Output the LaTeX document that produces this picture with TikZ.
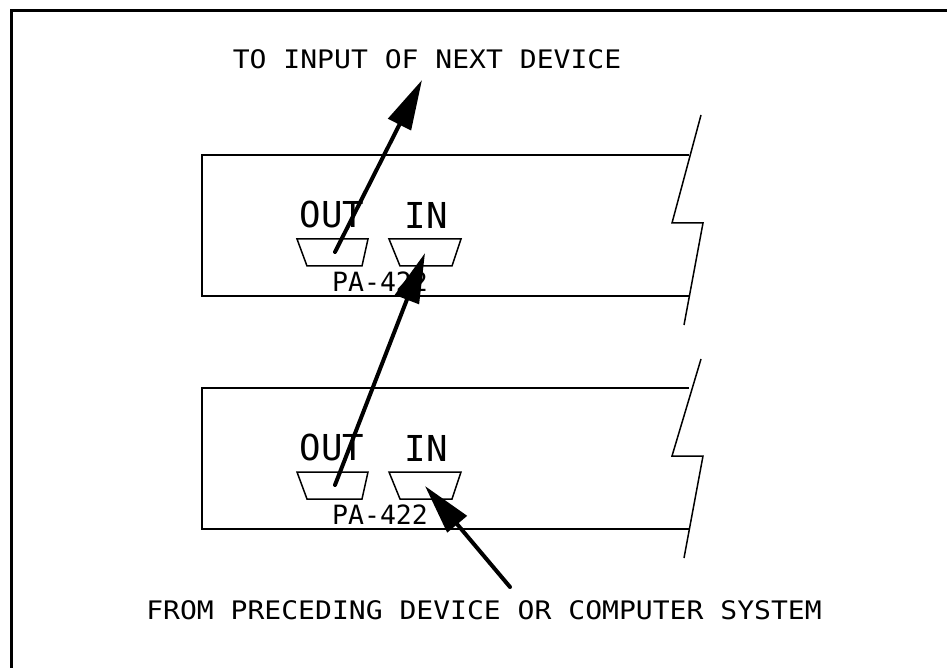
\documentclass[tikz,border=0pt]{standalone}
\usepackage{fontspec}
\newfontfamily\plotfont[FakeStretch=1.1]{DejaVu Sans Mono}
\newfontfamily\portfont{DejaVu Sans Mono}
\usetikzlibrary{arrows.meta}

\begin{document}
\begin{tikzpicture}[x=1pt, y=-1pt,
        panel/.style={line width=1.5pt},
        wire/.style={line width=4pt, line cap=round, -{Triangle[length=50pt, width=25pt]}},
        caption/.style={inner sep=0pt, font=\fontsize{25.5}{28}\plotfont},
        portlbl/.style={inner sep=0pt, font=\fontsize{35.7}{40}\portfont},
        partlbl/.style={inner sep=0pt, font=\fontsize{26.5}{30}\portfont}]
            \useasboundingbox (0,0) rectangle (947,668);
            \draw [line width=3pt] (947,11) -- (11,11) -- (11,668);

            % the two devices, one above the other
            \foreach \i/\dy/\brk in {1/0/115, 2/233/126} {
                \draw [panel] (689,155+\dy) -- (202,155+\dy) -- (202,296+\dy) -- (689,296+\dy);
                \draw [panel] (701,\brk+\dy) -- (672,223+\dy) -- (703,223+\dy) -- (684,325+\dy);
                \draw [panel] (297,239+\dy) -- (368,239+\dy) -- (362,266+\dy) -- (307,266+\dy) -- cycle;
                \draw [panel] (389,239+\dy) -- (461,239+\dy) -- (452,266+\dy) -- (400,266+\dy) -- cycle;
                \node[portlbl] (outlbl\i) at (332,215+\dy) {OUT};
                \node[portlbl] (inlbl\i) at (426,215+\dy) {IN};
                \node[partlbl] (part\i) at (380,282+\dy) {PA-422};
                \coordinate (out\i) at (335,252+\dy);
                \coordinate (in\i) at (425,253+\dy);
            }

            \node[caption] (next) at (427,59) {TO INPUT OF NEXT DEVICE};
            \node[caption] (prev) at (484,610) {FROM PRECEDING DEVICE OR COMPUTER SYSTEM};
            \coordinate (nextend) at (422,80);
            \coordinate (prevend) at (510,587);

            \draw [wire] (out1) -- (nextend);
            \draw [wire] (out2) -- (in1);
            \draw [wire] (prevend) -- (in2);
        \end{tikzpicture}
\end{document}
